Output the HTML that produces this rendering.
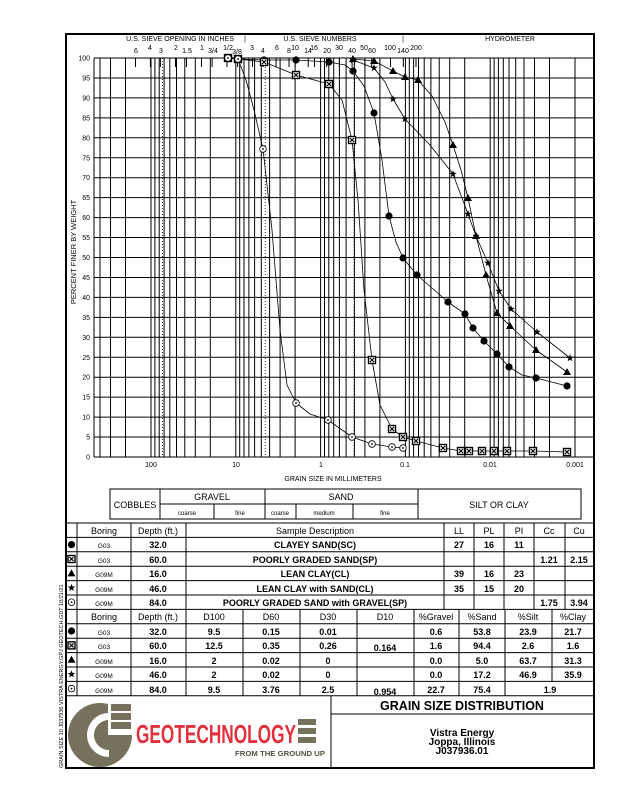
<!DOCTYPE html>
<html><head><meta charset="utf-8"><style>
html,body{margin:0;padding:0;background:#fff;}
svg{display:block;font-family:"Liberation Sans",sans-serif;}
</style></head><body>
<svg width="618" height="800" viewBox="0 0 618 800" xmlns="http://www.w3.org/2000/svg" xmlns:xlink="http://www.w3.org/1999/xlink">
<defs>
<g id="m0"><circle cx="0" cy="0" r="3.6" fill="#000"/></g>
<g id="m1"><rect x="-3.5" y="-3.5" width="7" height="7" fill="#fff" stroke="#000" stroke-width="1.4"/><path d="M-2,-2L2,2M2,-2L-2,2" stroke="#000" stroke-width="1.2"/></g>
<g id="m2"><path d="M0,-4L4,3L-4,3Z" fill="#000"/></g>
<g id="m3"><path d="M0,-4L0.94,-1.29L3.8,-1.24L1.52,0.49L2.35,3.24L0,1.6L-2.35,3.24L-1.52,0.49L-3.8,-1.24L-0.94,-1.29Z" fill="#000"/></g>
<g id="m4"><circle cx="0" cy="0" r="3.3" fill="#fff" stroke="#000" stroke-width="0.8"/><circle cx="0" cy="0" r="0.9" fill="#000"/></g>
</defs>
<rect x="0" y="0" width="618" height="800" fill="#fff"/>
<g stroke="#000" stroke-width="1">
<line x1="94" y1="58" x2="594" y2="58"/><line x1="94" y1="77.95" x2="594" y2="77.95"/><line x1="94" y1="97.9" x2="594" y2="97.9"/><line x1="94" y1="117.85" x2="594" y2="117.85"/><line x1="94" y1="137.8" x2="594" y2="137.8"/><line x1="94" y1="157.75" x2="594" y2="157.75"/><line x1="94" y1="177.7" x2="594" y2="177.7"/><line x1="94" y1="197.65" x2="594" y2="197.65"/><line x1="94" y1="217.6" x2="594" y2="217.6"/><line x1="94" y1="237.55" x2="594" y2="237.55"/><line x1="94" y1="257.5" x2="594" y2="257.5"/><line x1="94" y1="277.45" x2="594" y2="277.45"/><line x1="94" y1="297.4" x2="594" y2="297.4"/><line x1="94" y1="317.35" x2="594" y2="317.35"/><line x1="94" y1="337.3" x2="594" y2="337.3"/><line x1="94" y1="357.25" x2="594" y2="357.25"/><line x1="94" y1="377.2" x2="594" y2="377.2"/><line x1="94" y1="397.15" x2="594" y2="397.15"/><line x1="94" y1="417.1" x2="594" y2="417.1"/><line x1="94" y1="437.05" x2="594" y2="437.05"/><line x1="94" y1="457" x2="594" y2="457"/>
<path d="M94,58V457M100,58V457M110.5,58V457M125.5,58V457M151,58V457M154.9,58V457M159.2,58V457M164.1,58V457M169.8,58V457M176.5,58V457M184.8,58V457M195.3,58V457M210.3,58V457M235.8,58V457M239.7,58V457M244,58V457M248.9,58V457M254.6,58V457M261.3,58V457M269.6,58V457M280.1,58V457M295.1,58V457M320.6,58V457M324.5,58V457M328.8,58V457M333.7,58V457M339.4,58V457M346.1,58V457M354.4,58V457M364.9,58V457M379.9,58V457M405.4,58V457M409.3,58V457M413.6,58V457M418.5,58V457M424.2,58V457M430.9,58V457M439.2,58V457M449.7,58V457M464.7,58V457M490.2,58V457M494.1,58V457M498.4,58V457M503.3,58V457M509,58V457M515.7,58V457M524,58V457M534.5,58V457M549.5,58V457M575,58V457"/>
<path d="M135.5,58v9M150.4,58v9M160.4,58v9M175.5,58v9M186.5,58v9M201.5,58v9M212.1,58v9M227,58v9M237.6,58v9M252.5,58v9M263.2,58v9M276.1,58v9M289,58v9M295.1,58v9M308.2,58v9M314.5,58v9M326.6,58v9M339.4,58v9M352.1,58v9M364.9,58v9M371.7,58v9M390.5,58v9M403.3,58v9M416,58v9"/>
</g>
<g stroke="#000" stroke-width="0.8" stroke-dasharray="1,2">
<line x1="162.4" y1="58" x2="162.4" y2="457"/><line x1="265.2" y1="58" x2="265.2" y2="457"/><line x1="354.1" y1="58" x2="354.1" y2="457"/>
</g>
<!-- curves -->
<g fill="none" stroke="#000" stroke-width="0.8" stroke-linejoin="round">
<polyline points="238,59 264,60 296,60 329,62 345,65 353,71 364,86 374,113 382,160 389,216 396,242 403,258 417,275 448,302 465,314 473,328 484,341 497,354 509,367 522,375 536,378 567,386"/>
<polyline points="228,58 238,59 264,62 296,75 329,84 342,100 352,140 358,200 364,290 372,360 380,405 392,429 403,437 416,441 443,448 461,451 469,451 482,451 494,451 507,451 533,451 567,452"/>
<polyline points="353,59 374,61 393,71 405,77 418,80 432,96 445,122 453,145 461,170 468,198 476,236 486,275 497,313 510,326 536,350 567,372"/>
<polyline points="353,60 374,68 385,82 393,99 405,119 430,145 453,174 468,214 476,236 488,263 499,291 511,309 537,332 570,358"/>
<polyline points="228,58 238,59 246,80 254,110 263,149 272,230 280,330 287,385 296,403 310,414 328,420 352,437 372,444 392,447 403,448"/>
</g>
<g>
<use xlink:href="#m0" x="238" y="59"/><use xlink:href="#m0" x="264" y="60"/><use xlink:href="#m0" x="296" y="60"/><use xlink:href="#m0" x="329" y="62"/><use xlink:href="#m0" x="353" y="71"/><use xlink:href="#m0" x="374" y="113"/><use xlink:href="#m0" x="389" y="216"/><use xlink:href="#m0" x="403" y="258"/><use xlink:href="#m0" x="417" y="275"/><use xlink:href="#m0" x="448" y="302"/><use xlink:href="#m0" x="465" y="314"/><use xlink:href="#m0" x="473" y="328"/><use xlink:href="#m0" x="484" y="341"/><use xlink:href="#m0" x="497" y="354"/><use xlink:href="#m0" x="509" y="367"/><use xlink:href="#m0" x="536" y="378"/><use xlink:href="#m0" x="567" y="386"/>
<use xlink:href="#m1" x="228" y="58"/><use xlink:href="#m1" x="238" y="59"/><use xlink:href="#m1" x="264" y="62"/><use xlink:href="#m1" x="296" y="75"/><use xlink:href="#m1" x="329" y="84"/><use xlink:href="#m1" x="352" y="140"/><use xlink:href="#m1" x="372" y="360"/><use xlink:href="#m1" x="392" y="429"/><use xlink:href="#m1" x="403" y="437"/><use xlink:href="#m1" x="416" y="441"/><use xlink:href="#m1" x="443" y="448"/><use xlink:href="#m1" x="461" y="451"/><use xlink:href="#m1" x="469" y="451"/><use xlink:href="#m1" x="482" y="451"/><use xlink:href="#m1" x="494" y="451"/><use xlink:href="#m1" x="507" y="451"/><use xlink:href="#m1" x="533" y="451"/><use xlink:href="#m1" x="567" y="452"/>
<use xlink:href="#m2" x="353" y="59"/><use xlink:href="#m2" x="374" y="61"/><use xlink:href="#m2" x="393" y="71"/><use xlink:href="#m2" x="405" y="77"/><use xlink:href="#m2" x="418" y="80"/><use xlink:href="#m2" x="453" y="145"/><use xlink:href="#m2" x="468" y="198"/><use xlink:href="#m2" x="476" y="236"/><use xlink:href="#m2" x="486" y="275"/><use xlink:href="#m2" x="497" y="313"/><use xlink:href="#m2" x="510" y="326"/><use xlink:href="#m2" x="536" y="350"/><use xlink:href="#m2" x="567" y="372"/>
<use xlink:href="#m3" x="353" y="60"/><use xlink:href="#m3" x="374" y="68"/><use xlink:href="#m3" x="393" y="99"/><use xlink:href="#m3" x="405" y="119"/><use xlink:href="#m3" x="453" y="174"/><use xlink:href="#m3" x="468" y="214"/><use xlink:href="#m3" x="476" y="236"/><use xlink:href="#m3" x="488" y="263"/><use xlink:href="#m3" x="499" y="291"/><use xlink:href="#m3" x="511" y="309"/><use xlink:href="#m3" x="537" y="332"/><use xlink:href="#m3" x="570" y="358"/>
<use xlink:href="#m4" x="228" y="58"/><use xlink:href="#m4" x="238" y="59"/><use xlink:href="#m4" x="263" y="149"/><use xlink:href="#m4" x="296" y="403"/><use xlink:href="#m4" x="328" y="420"/><use xlink:href="#m4" x="352" y="437"/><use xlink:href="#m4" x="372" y="444"/><use xlink:href="#m4" x="392" y="447"/><use xlink:href="#m4" x="403" y="448"/>
</g>
<!-- outer border -->
<rect x="66" y="34" width="528" height="734" fill="none" stroke="#000" stroke-width="2"/>
<g font-size="7" text-anchor="middle">
<text x="180" y="41">U.S. SIEVE OPENING IN INCHES</text>
<text x="245" y="41">|</text>
<text x="320" y="41">U.S. SIEVE NUMBERS</text>
<text x="403" y="41">|</text>
<text x="510" y="41">HYDROMETER</text>
<text x="136" y="53">6</text><text x="150" y="50">4</text><text x="161" y="53">3</text>
<text x="176" y="50">2</text><text x="187" y="53">1.5</text><text x="202" y="50">1</text>
<text x="213" y="53">3/4</text><text x="228" y="50">1/2</text><text x="237" y="54">3/8</text>
<text x="252" y="50">3</text><text x="263" y="53">4</text><text x="277" y="50">6</text>
<text x="289" y="53">8</text><text x="295" y="50">10</text><text x="308" y="53">14</text>
<text x="314" y="50">16</text><text x="327" y="53">20</text><text x="339" y="50">30</text>
<text x="352" y="53">40</text><text x="364" y="50">50</text><text x="372" y="53">60</text>
<text x="390" y="50">100</text><text x="403" y="53">140</text><text x="416" y="50">200</text>
</g>
<g font-size="7" text-anchor="end">
<text x="90" y="60.5">100</text><text x="90" y="80.5">95</text><text x="90" y="100.4">90</text><text x="90" y="120.4">85</text><text x="90" y="140.3">80</text><text x="90" y="160.3">75</text><text x="90" y="180.2">70</text><text x="90" y="200.2">65</text><text x="90" y="220.1">60</text><text x="90" y="240.1">55</text><text x="90" y="260">50</text><text x="90" y="280">45</text><text x="90" y="299.9">40</text><text x="90" y="319.9">35</text><text x="90" y="339.8">30</text><text x="90" y="359.8">25</text><text x="90" y="379.7">20</text><text x="90" y="399.7">15</text><text x="90" y="419.6">10</text><text x="90" y="439.6">5</text><text x="90" y="459.5">0</text>
</g>
<text font-size="7.5" transform="translate(76,252) rotate(-90)" text-anchor="middle">PERCENT FINER BY WEIGHT</text>
<g font-size="7" text-anchor="middle">
<text x="151" y="467">100</text><text x="236" y="467">10</text><text x="321" y="467">1</text>
<text x="405" y="467">0.1</text><text x="490" y="467">0.01</text><text x="575" y="467">0.001</text>
<text x="333" y="481">GRAIN SIZE IN MILLIMETERS</text>
</g>
<g fill="none" stroke="#000" stroke-width="1">
<rect x="110" y="489" width="471" height="30"/>
<line x1="160" y1="489" x2="160" y2="519"/><line x1="265" y1="489" x2="265" y2="519"/>
<line x1="418" y1="489" x2="418" y2="519"/><line x1="160" y1="504" x2="418" y2="504"/>
<line x1="214" y1="504" x2="214" y2="519"/><line x1="296" y1="504" x2="296" y2="519"/>
<line x1="353" y1="504" x2="353" y2="519"/>
</g>
<g font-size="9" text-anchor="middle">
<text x="135" y="508">COBBLES</text><text x="212" y="500">GRAVEL</text><text x="341" y="500">SAND</text>
<text x="499" y="508">SILT OR CLAY</text>
</g>
<g font-size="6" text-anchor="middle">
<text x="187" y="515">coarse</text><text x="240" y="515">fine</text><text x="280" y="515">coarse</text>
<text x="324" y="515">medium</text><text x="385" y="515">fine</text>
</g>
<!-- tables -->
<g stroke="#000" stroke-width="1" fill="none">
<path d="M66,523H594M66,537.4H594M66,551.8H594M66,566.2H594M66,580.6H594M66,595H594M66,609.4H594M66,623.8H594M66,638.2H594M66,652.6H594M66,667H594M66,681.4H594M66,695.8H594"/>
<path d="M77,523V609.4M131,523V609.4M186,523V609.4M444,523V609.4M474,523V609.4M504,523V609.4M534,523V609.4M565,523V609.4"/>
<path d="M77,609.4V695.8M131,609.4V695.8M186,609.4V695.8M243,609.4V695.8M300,609.4V695.8M357,609.4V695.8M414,609.4V695.8M459,609.4V695.8M505,609.4V695.8M552,609.4V681.4"/>
</g>
<g font-size="9" text-anchor="middle">
<text x="104" y="534">Boring</text><text x="158" y="534">Depth (ft.)</text><text x="315" y="534">Sample Description</text>
<text x="459" y="534">LL</text><text x="489" y="534">PL</text><text x="519" y="534">PI</text><text x="549" y="534">Cc</text><text x="579" y="534">Cu</text>
</g>
<g font-size="9" font-weight="bold" text-anchor="middle">
<text x="158" y="548">32.0</text><text x="315" y="548">CLAYEY SAND(SC)</text><text x="459" y="548">27</text><text x="489" y="548">16</text><text x="519" y="548">11</text>
<text x="158" y="563">60.0</text><text x="315" y="563">POORLY GRADED SAND(SP)</text><text x="549" y="563">1.21</text><text x="579" y="563">2.15</text>
<text x="158" y="577">16.0</text><text x="315" y="577">LEAN CLAY(CL)</text><text x="459" y="577">39</text><text x="489" y="577">16</text><text x="519" y="577">23</text>
<text x="158" y="592">46.0</text><text x="315" y="592">LEAN CLAY with SAND(CL)</text><text x="459" y="592">35</text><text x="489" y="592">15</text><text x="519" y="592">20</text>
<text x="158" y="606">84.0</text><text x="315" y="606">POORLY GRADED SAND with GRAVEL(SP)</text><text x="549" y="606">1.75</text><text x="579" y="606">3.94</text>
</g>
<g font-size="9" text-anchor="middle">
<text x="104" y="620">Boring</text><text x="158" y="620">Depth (ft.)</text><text x="214" y="620">D100</text><text x="271" y="620">D60</text>
<text x="328" y="620">D30</text><text x="385" y="620">D10</text><text x="436" y="620">%Gravel</text><text x="482" y="620">%Sand</text>
<text x="528" y="620">%Silt</text><text x="573" y="620">%Clay</text>
</g>
<g font-size="9" font-weight="bold" text-anchor="middle">
<text x="158" y="635">32.0</text><text x="214" y="635">9.5</text><text x="271" y="635">0.15</text><text x="328" y="635">0.01</text>
<text x="436" y="635">0.6</text><text x="482" y="635">53.8</text><text x="528" y="635">23.9</text><text x="573" y="635">21.7</text>
<text x="158" y="649">60.0</text><text x="214" y="649">12.5</text><text x="271" y="649">0.35</text><text x="328" y="649">0.26</text><text x="385" y="651">0.164</text>
<text x="436" y="649">1.6</text><text x="482" y="649">94.4</text><text x="528" y="649">2.6</text><text x="573" y="649">1.6</text>
<text x="158" y="664">16.0</text><text x="214" y="664">2</text><text x="271" y="664">0.02</text><text x="328" y="664">0</text>
<text x="436" y="664">0.0</text><text x="482" y="664">5.0</text><text x="528" y="664">63.7</text><text x="573" y="664">31.3</text>
<text x="158" y="678">46.0</text><text x="214" y="678">2</text><text x="271" y="678">0.02</text><text x="328" y="678">0</text>
<text x="436" y="678">0.0</text><text x="482" y="678">17.2</text><text x="528" y="678">46.9</text><text x="573" y="678">35.9</text>
<text x="158" y="693">84.0</text><text x="214" y="693">9.5</text><text x="271" y="693">3.76</text><text x="328" y="693">2.5</text><text x="385" y="695">0.954</text>
<text x="436" y="693">22.7</text><text x="482" y="693">75.4</text><text x="550" y="693">1.9</text>
</g>
<g font-size="6.5" text-anchor="middle">
<text x="104" y="548">G03</text><text x="104" y="563">G03</text><text x="104" y="577">G09M</text><text x="104" y="592">G09M</text><text x="104" y="606">G09M</text>
<text x="104" y="635">G03</text><text x="104" y="649">G03</text><text x="104" y="664">G09M</text><text x="104" y="678">G09M</text><text x="104" y="693">G09M</text>
</g>
<g>
<use xlink:href="#m0" x="71.5" y="544.6"/><use xlink:href="#m1" x="71.5" y="559"/><use xlink:href="#m2" x="71.5" y="573.4"/><use xlink:href="#m3" x="71.5" y="587.8"/><use xlink:href="#m4" x="71.5" y="602.2"/>
<use xlink:href="#m0" x="71.5" y="631"/><use xlink:href="#m1" x="71.5" y="645.4"/><use xlink:href="#m2" x="71.5" y="659.8"/><use xlink:href="#m3" x="71.5" y="674.2"/><use xlink:href="#m4" x="71.5" y="688.6"/>
</g>
<!-- title block -->
<line x1="331" y1="696" x2="331" y2="768" stroke="#000"/>
<line x1="331" y1="714" x2="594" y2="714" stroke="#000"/>
<text x="462" y="710" font-size="12.5" font-weight="bold" text-anchor="middle">GRAIN SIZE DISTRIBUTION</text>
<g font-size="10" font-weight="bold" text-anchor="middle">
<text x="462" y="736">Vistra Energy</text><text x="462" y="745">Joppa, Illinois</text><text x="462" y="754">J037936.01</text>
</g>
<!-- logo -->
<circle cx="100" cy="735" r="32" fill="#76715c"/>
<path d="M109,713 A22,22 0 1,0 109,757 L109,750 A15,15 0 1,1 109,720 Z" fill="#fff"/>
<rect x="108" y="702" width="24" height="33" fill="#fff"/>
<g fill="#76715c"><rect x="111" y="704" width="20" height="7"/><rect x="111" y="713" width="20" height="7"/><rect x="111" y="722" width="20" height="7"/></g>
<text x="136" y="743" font-size="26" font-weight="bold" fill="#e2303c" textLength="160" lengthAdjust="spacingAndGlyphs">GEOTECHNOLOGY</text>
<g fill="#76715c"><rect x="298" y="719" width="18" height="6"/><rect x="298" y="728" width="18" height="6"/><rect x="298" y="737" width="18" height="6"/></g>
<text x="235" y="756" font-size="7.5" font-weight="bold" fill="#56513f" textLength="90" lengthAdjust="spacingAndGlyphs">FROM THE GROUND UP</text>
<text font-size="5.5" transform="translate(63,768) rotate(-90)">GRAIN SIZE 10 J037936 VISTRA ENERGY.GPJ GEOTECH.GDT 10/21/21</text>
</svg>
</body></html>
